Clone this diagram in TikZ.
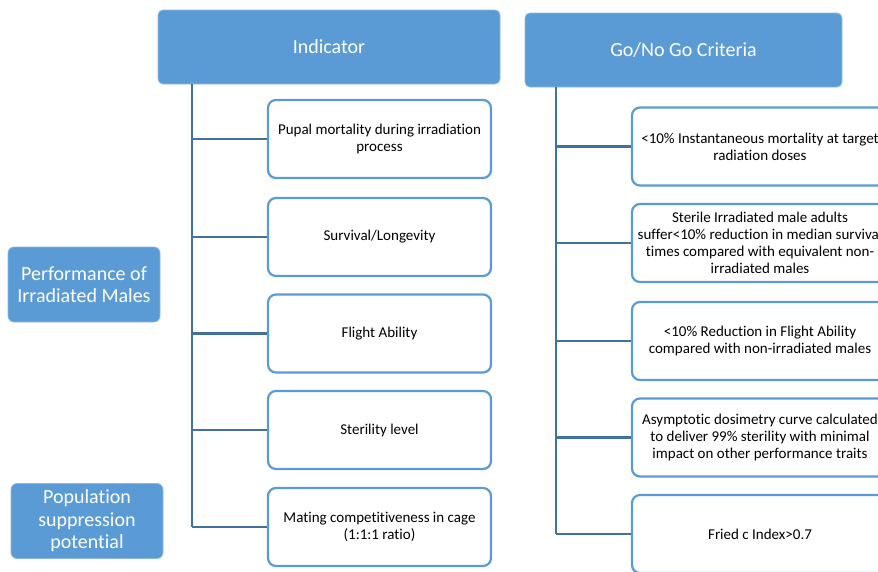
\documentclass[tikz,border=0pt]{standalone}
\usepackage{fontspec}
\setmainfont{Carlito}[Ligatures=NoCommon]
\definecolor{accent}{HTML}{5B9BD5}
\definecolor{trunkc}{HTML}{41719C}
\tikzset{
  header/.style={draw=accent!70!white, line width=0.8pt, fill=accent, rounded corners=5pt, text=white,
    font=\fontsize{20}{22}\selectfont, align=center, inner sep=0pt},
  sidebox/.style={draw=accent!70!white, line width=0.8pt, fill=accent, rounded corners=6pt, text=white,
    font=\fontsize{20}{22.5}\selectfont, align=center, inner sep=0pt,
    minimum width=152pt, minimum height=75pt},
  itembox/.style={draw=accent, line width=2.2pt, fill=white, rounded corners=8pt, text=black,
    font=\fontsize{15}{17}\selectfont, align=center, inner sep=0pt, minimum height=78pt},
  leftitem/.style={itembox, minimum width=223pt},
  rightitem/.style={itembox, minimum width=256pt},
  trunk/.style={draw=trunkc, line width=2.6pt},
}
\begin{document}
\begin{tikzpicture}[x=1pt,y=-1pt]
\useasboundingbox (0,0) rectangle (878,571);
\clip (0,0) rectangle (878,571);
% headers
\node[header, minimum width=342pt, minimum height=74pt] (ind) at (329,47) {Indicator};
\node[header, minimum width=317pt, minimum height=74pt] (gng) at (683.5,50) {Go/No Go Criteria};
% side boxes
\node[sidebox] (perf) at (84,284.5) {Performance of\\Irradiated Males};
\node[sidebox] (pop) at (87,521) {Population\\suppression\\potential};
% left column items
\node[leftitem] (c1) at (379.5,139) {Pupal mortality during irradiation\\process};
\node[leftitem] (c2) at (379.5,237) {Survival/Longevity};
\node[leftitem] (c3) at (379.5,333.5) {Flight Ability};
\node[leftitem] (c4) at (379.5,430) {Sterility level};
\node[leftitem] (c5) at (379.5,527) {Mating competitiveness in cage\\(1:1:1 ratio)};
% right column items
\node[rightitem] (r1) at (760,146.5) {<10\% Instantaneous mortality at target\\radiation doses};
\node[rightitem] (r2) at (760,243) {Sterile Irradiated male adults\\suffer<10\% reduction in median survival\\times compared with equivalent non-\\irradiated males};
\node[rightitem] (r3) at (760,341) {<10\% Reduction in Flight Ability\\compared with non-irradiated males};
\node[rightitem] (r4) at (760,437.5) {Asymptotic dosimetry curve calculated\\to deliver 99\% sterility with minimal\\impact on other performance traits};
\node[rightitem] (r5) at (760,534) {Fried c Index>0.7};
% trunk positions
\coordinate (tl) at (192,0);
\coordinate (tr) at (556,0);
% left trunk and branches
\draw[trunk] (ind.south -| tl) -- (tl |- c5.west);
\foreach \n in {c1,c2,c3,c4,c5} \draw[trunk] (tl |- \n.west) -- (\n.west);
% right trunk and branches
\draw[trunk] (gng.south -| tr) -- (tr |- r5.west);
\foreach \n in {r1,r2,r3,r4,r5} \draw[trunk] (tr |- \n.west) -- (\n.west);
\end{tikzpicture}
\end{document}
